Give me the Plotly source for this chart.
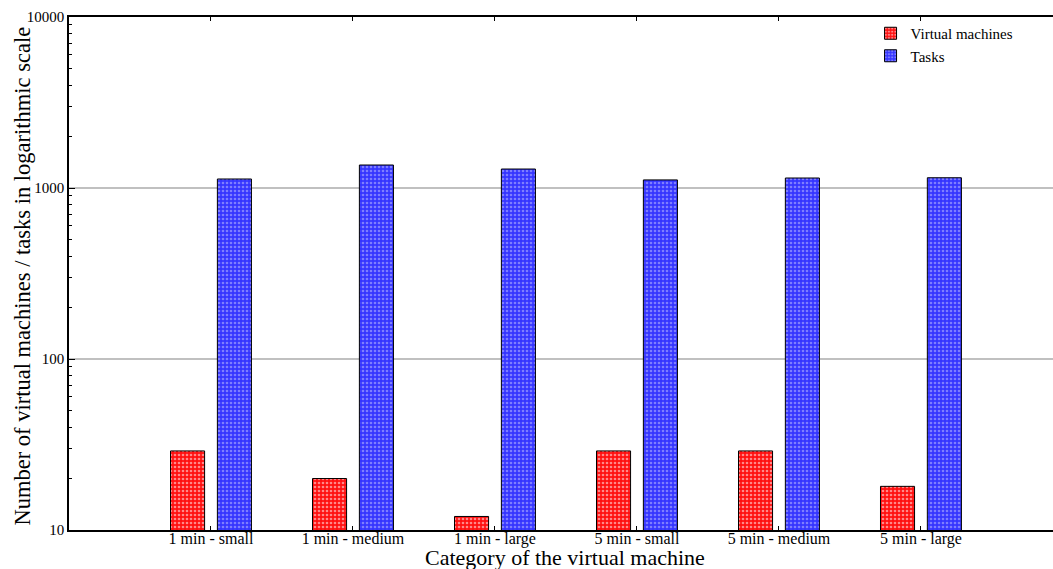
import plotly.graph_objects as go

categories = ["1 min - small", "1 min - medium", "1 min - large",
              "5 min - small", "5 min - medium", "5 min - large"]
vm_counts = [29, 20, 12, 29, 29, 18]
task_counts = [1129, 1363, 1291, 1115, 1144, 1148]
y_tickvals = [10, 100, 1000, 10000]
y_ticktext = ["10", "100", "1000", "10000"]
y_minor_ticks = [m * d for d in (10, 100, 1000) for m in range(2, 10)]

font_family = "Liberation Serif"

fig = go.Figure()
fig.add_trace(go.Bar(
    x=categories, y=vm_counts, name="Virtual machines",
    marker=dict(color="#ff1010", line=dict(color="black", width=1),
                pattern=dict(shape=".", fgcolor="white", bgcolor="#ff1010",
                             size=4, solidity=0.35, fillmode="overlay")),
))
fig.add_trace(go.Bar(
    x=categories, y=task_counts, name="Tasks",
    marker=dict(color="#3535ff", line=dict(color="black", width=1),
                pattern=dict(shape=".", fgcolor="#c8c8ff", bgcolor="#3535ff",
                             size=4, solidity=0.35, fillmode="overlay")),
))

fig.update_layout(
    width=1053, height=569,
    margin=dict(l=69, r=0, t=17, b=39, pad=0),
    paper_bgcolor="white", plot_bgcolor="white",
    barmode="group", bargap=0.34, bargroupgap=0.273,
    font=dict(family=font_family, size=16, color="black"),
    showlegend=True,
    legend=dict(x=0.965, y=1.0, xanchor="right", yanchor="top",
                bgcolor="rgba(0,0,0,0)", font=dict(size=15, family=font_family),
                itemwidth=30, tracegroupgap=0),
    annotations=[
        dict(text="Category of the virtual machine", xref="paper", yref="paper",
             x=0.504, y=0, xanchor="center", yanchor="middle", yshift=-27,
             showarrow=False, font=dict(size=22, family=font_family)),
        dict(text="Number of virtual machines / tasks in logarithmic scale",
             xref="paper", yref="paper", x=0, y=0.5, yshift=-3, xshift=-47,
             xanchor="center", yanchor="middle", textangle=-90,
             showarrow=False, font=dict(size=22.5, family=font_family)),
    ],
)
fig.update_xaxes(
    type="category", range=[-1, 5.93], automargin=False,
    showline=True, linecolor="black", linewidth=1.5, mirror="ticks",
    ticks="inside", ticklen=4, tickcolor="black",
    showgrid=False, tickfont=dict(size=16, family=font_family),
    ticklabelstandoff=-7,
)
fig.update_yaxes(
    type="log", range=[1, 4], automargin=False,
    tickvals=y_tickvals, ticktext=y_ticktext,
    showline=True, linecolor="black", linewidth=1.5, mirror=False,
    ticks="inside", ticklen=6, tickcolor="black",
    minor=dict(tickmode="array", tickvals=y_minor_ticks, ticks="inside",
               ticklen=3, tickcolor="black", showgrid=False),
    showgrid=True, gridcolor="#c0c0c0", gridwidth=1.5,
    zeroline=False, tickfont=dict(size=15, family=font_family),
)

fig.write_html("out.html", config={"displayModeBar": False},
               post_script="document.body.style.margin='0';document.body.style.overflow='hidden';")
